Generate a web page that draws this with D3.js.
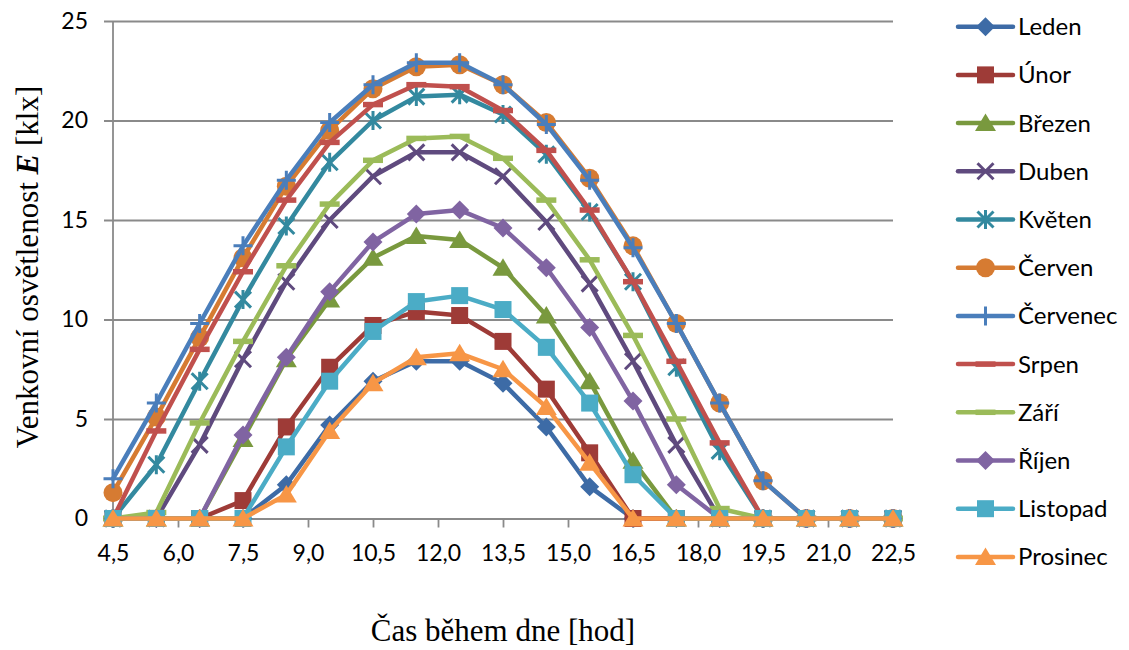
<!DOCTYPE html>
<html>
<head>
<meta charset="utf-8">
<script src="https://cdn.jsdelivr.net/npm/d3@7"></script>
<style>
  html, body { margin: 0; padding: 0; background: #fff; }
  svg { display: block; }
  .tick text { font-family: Lato, "Open Sans", sans-serif; fill: #000; }
</style>
</head>
<body>
<svg id="chart" width="1129" height="650"></svg>
<script>
// ---- data ----
const hours = [4.5, 5.5, 6.5, 7.5, 8.5, 9.5, 10.5, 11.5, 12.5, 13.5, 14.5, 15.5, 16.5, 17.5, 18.5, 19.5, 20.5, 21.5, 22.5];
const xTicks = [4.5, 6.0, 7.5, 9.0, 10.5, 12.0, 13.5, 15.0, 16.5, 18.0, 19.5, 21.0, 22.5];
const yTicks = [0, 5, 10, 15, 20, 25];
const months = ["Leden", "Únor", "Březen", "Duben", "Květen", "Červen", "Červenec", "Srpen", "Září", "Říjen", "Listopad", "Prosinec"];

const leden    = [0, 0, 0, 0, 1.7, 4.7, 6.9, 7.9, 7.9, 6.8, 4.6, 1.6, 0, 0, 0, 0, 0, 0, 0];
const unor     = [0, 0, 0, 0.9, 4.6, 7.6, 9.7, 10.4, 10.2, 8.9, 6.5, 3.3, 0, 0, 0, 0, 0, 0, 0];
const brezen   = [0, 0, 0, 4.0, 8.0, 11.0, 13.1, 14.2, 14.0, 12.6, 10.2, 6.9, 2.9, 0, 0, 0, 0, 0, 0];
const duben    = [0, 0, 3.7, 8.0, 11.9, 15.0, 17.2, 18.4, 18.4, 17.2, 14.9, 11.8, 7.9, 3.7, 0, 0, 0, 0, 0];
const kveten   = [0, 2.7, 6.9, 11.0, 14.7, 17.9, 20.0, 21.2, 21.3, 20.3, 18.3, 15.4, 11.9, 7.6, 3.4, 0, 0, 0, 0];
const cerven   = [1.3, 5.1, 9.1, 13.1, 16.7, 19.5, 21.6, 22.7, 22.8, 21.8, 19.9, 17.1, 13.7, 9.8, 5.8, 1.9, 0, 0, 0];
const cervenec = [2.0, 5.8, 9.8, 13.7, 17.0, 19.9, 21.8, 22.9, 22.9, 21.8, 19.8, 17.0, 13.6, 9.8, 5.8, 1.9, 0, 0, 0];
const srpen    = [0, 4.4, 8.5, 12.4, 16.0, 18.9, 20.8, 21.8, 21.7, 20.5, 18.5, 15.5, 11.9, 7.9, 3.8, 0, 0, 0, 0];
const zari     = [0, 0.3, 4.8, 8.9, 12.7, 15.8, 18.0, 19.1, 19.2, 18.1, 16.0, 13.0, 9.2, 5.0, 0.5, 0, 0, 0, 0];
const rijen    = [0, 0, 0, 4.2, 8.1, 11.4, 13.9, 15.3, 15.5, 14.6, 12.6, 9.6, 5.9, 1.7, 0, 0, 0, 0, 0];
const listopad = [0, 0, 0, 0, 3.6, 6.9, 9.4, 10.9, 11.2, 10.5, 8.6, 5.8, 2.2, 0, 0, 0, 0, 0, 0];
const prosinec = [0, 0, 0, 0, 1.2, 4.4, 6.8, 8.1, 8.3, 7.5, 5.6, 2.8, 0, 0, 0, 0, 0, 0, 0];

const seriesValues = [leden, unor, brezen, duben, kveten, cerven, cervenec, srpen, zari, rijen, listopad, prosinec];
const colors = ["#3d6ba6", "#9e3b37", "#79993e", "#5f4a7e", "#33899f", "#d67b32",
                "#4a7ebb", "#c0504d", "#9bbb59", "#8064a2", "#4bacc6", "#f79646"];
const markers = ["diamond", "square", "triangle", "x", "asterisk", "circle",
                 "plus", "dash", "dash", "diamond", "square", "triangle"];

// ---- layout ----
const svg = d3.select("#chart");
const pLeft = 113, pRight = 893, pTop = 21, pBottom = 518.5;
const x = d3.scaleLinear().domain([4.5, 22.5]).range([pLeft, pRight]);
const y = d3.scaleLinear().domain([0, 25]).range([pBottom, pTop]);
const czFmt = d3.formatLocale({decimal: ",", thousands: " ", grouping: [3], currency: ["", ""]});
const gridColor = "#8a8a8a";

// y grid + labels
const yAxis = svg.append("g")
  .attr("transform", `translate(${pLeft - 9},0)`)
  .call(d3.axisLeft(y).tickValues(yTicks).tickSizeInner(-(pRight - pLeft + 9)).tickSizeOuter(0).tickPadding(16).tickFormat(d3.format("d")));
yAxis.select(".domain").remove();
yAxis.selectAll(".tick line").attr("stroke", gridColor).attr("stroke-width", 1.8);
yAxis.selectAll(".tick text").attr("font-size", 23);

// x axis
const xAxis = svg.append("g")
  .attr("transform", `translate(0,${pBottom})`)
  .call(d3.axisBottom(x).tickValues(xTicks).tickSizeInner(9).tickSizeOuter(0).tickPadding(17).tickFormat(czFmt.format(".1f")));
xAxis.select(".domain").attr("stroke", gridColor).attr("stroke-width", 1.8);
xAxis.selectAll(".tick line").attr("stroke", gridColor).attr("stroke-width", 1.8);
xAxis.selectAll(".tick text").attr("font-size", 23);

// y axis line
svg.append("line").attr("x1", pLeft).attr("x2", pLeft).attr("y1", pTop).attr("y2", pBottom)
  .attr("stroke", gridColor).attr("stroke-width", 1.8);

// marker drawing
function drawMarker(g, type, color) {
  switch (type) {
    case "diamond":
      g.append("path").attr("d", "M0,-9.5L9.5,0L0,9.5L-9.5,0Z").attr("fill", color); break;
    case "square":
      g.append("rect").attr("x", -8.5).attr("y", -8.5).attr("width", 17).attr("height", 17).attr("fill", color); break;
    case "triangle":
      g.append("path").attr("d", "M0,-9.5L10.5,8L-10.5,8Z").attr("fill", color); break;
    case "circle":
      g.append("circle").attr("r", 9.5).attr("fill", color); break;
    case "x":
      g.append("path").attr("d", "M-8,-8L8,8M-8,8L8,-8").attr("stroke", color).attr("stroke-width", 3).attr("fill", "none"); break;
    case "asterisk":
      g.append("path").attr("d", "M-8,-8L8,8M-8,8L8,-8M0,-9.5L0,9.5").attr("stroke", color).attr("stroke-width", 3).attr("fill", "none"); break;
    case "plus":
      g.append("path").attr("d", "M-9.5,0L9.5,0M0,-9.5L0,9.5").attr("stroke", color).attr("stroke-width", 3).attr("fill", "none"); break;
    case "dash":
      g.append("rect").attr("x", -10).attr("y", -2.75).attr("width", 20).attr("height", 5.5).attr("fill", color); break;
  }
}

// series
const line = d3.line().x(d => x(d[0])).y(d => y(d[1]));
seriesValues.forEach((vals, i) => {
  const pts = hours.map((h, j) => [h, vals[j]]);
  const g = svg.append("g");
  g.append("path").datum(pts).attr("d", line)
    .attr("fill", "none").attr("stroke", colors[i]).attr("stroke-width", 4.5)
    .attr("stroke-linejoin", "round").attr("stroke-linecap", "round");
  g.selectAll("g.m").data(pts).join("g").attr("class", "m")
    .attr("transform", d => `translate(${x(d[0])},${y(d[1])})`)
    .each(function() { drawMarker(d3.select(this), markers[i], colors[i]); });
});

// legend
const legend = svg.append("g");
months.forEach((m, i) => {
  const ly = 26.7 + i * 48.2;
  const g = legend.append("g").attr("transform", `translate(0,${ly})`);
  g.append("line").attr("x1", 958).attr("x2", 1013).attr("y1", 0).attr("y2", 0)
    .attr("stroke", colors[i]).attr("stroke-width", 4.5).attr("stroke-linecap", "round");
  const mg = g.append("g").attr("transform", "translate(985.5,0)");
  drawMarker(mg, markers[i], colors[i]);
  g.append("text").attr("x", 1018).attr("y", 0).attr("dy", "0.35em")
    .attr("font-family", "Lato, 'Open Sans', sans-serif").attr("font-size", 24).attr("fill", "#000")
    .text(m);
});

// axis titles
svg.append("text")
  .attr("x", 503).attr("y", 641)
  .attr("text-anchor", "middle")
  .attr("font-family", "'Liberation Serif', 'Times New Roman', serif")
  .attr("font-size", 31).attr("fill", "#000")
  .text("Čas během dne [hod]");

const yt = svg.append("text")
  .attr("transform", "translate(38,267) rotate(-90)")
  .attr("text-anchor", "middle")
  .attr("font-family", "'Liberation Serif', 'Times New Roman', serif")
  .attr("font-size", 31).attr("fill", "#000");
yt.append("tspan").text("Venkovní osvětlenost ");
yt.append("tspan").attr("font-weight", "bold").attr("font-style", "italic").text("E");
yt.append("tspan").text(" [klx]");
</script>
</body>
</html>
